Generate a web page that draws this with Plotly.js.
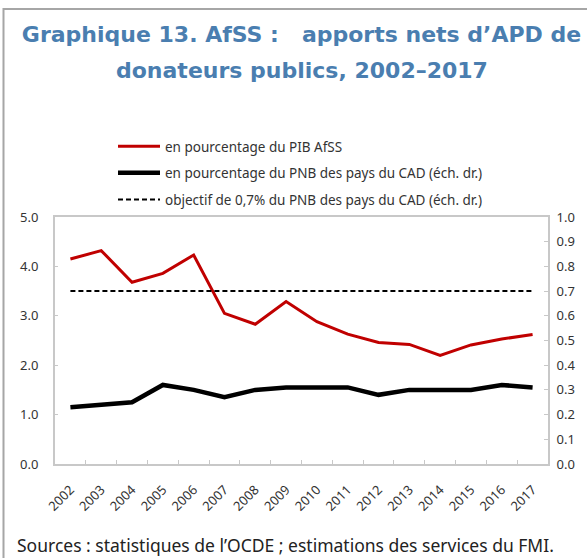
<!DOCTYPE html>
<html>
<head>
<meta charset="utf-8">
<script src="https://cdn.plot.ly/plotly-3.0.1.min.js"></script>
<style>html,body{margin:0;padding:0;background:#fff;}#chart{width:587px;height:558px;}</style>
</head>
<body>
<div id="chart"></div>
<script>
const years = ["2002","2003","2004","2005","2006","2007","2008","2009","2010","2011","2012","2013","2014","2015","2016","2017"];
const pibAfSS = [4.15,4.32,3.68,3.86,4.23,3.05,2.83,3.29,2.88,2.63,2.46,2.42,2.20,2.41,2.53,2.62];
const pnbCAD = [0.23,0.24,0.25,0.32,0.30,0.27,0.30,0.31,0.31,0.31,0.28,0.30,0.30,0.30,0.32,0.31];
const objectif = [0.7,0.7,0.7,0.7,0.7,0.7,0.7,0.7,0.7,0.7,0.7,0.7,0.7,0.7,0.7,0.7];
const names = ["en pourcentage du PIB AfSS","en pourcentage du PNB des pays du CAD (éch. dr.)","objectif de 0,7% du PNB des pays du CAD (éch. dr.)"];
const yTicks = [0,1,2,3,4,5];
const y2Ticks = [0,0.1,0.2,0.3,0.4,0.5,0.6,0.7,0.8,0.9,1.0];

const font = "'Noto Sans', 'Open Sans', sans-serif";
const titleFont = {family: "'DejaVu Sans', sans-serif", size: 22, color: "#4a7eb0", weight: 700};
const traces = [
  {x: years, y: pibAfSS, name: names[0], type: "scatter", mode: "lines", line: {color: "#c00000", width: 3}, legendgroup: "a", yaxis: "y"},
  {x: years, y: pnbCAD, name: names[1], type: "scatter", mode: "lines", line: {color: "#000000", width: 4.5}, legendgroup: "b", yaxis: "y2"},
  {x: years, y: objectif, name: names[2], type: "scatter", mode: "lines", line: {color: "#000000", width: 2, dash: "5px,3px"}, legendgroup: "c", yaxis: "y2"}
];
const axisColor = "#c8c8c8";
const layout = {
  width: 587, height: 558,
  margin: {l: 55, r: 39, t: 217, b: 94},
  paper_bgcolor: "#ffffff", plot_bgcolor: "#ffffff",
  font: {family: font, color: "#333333", size: 12},
  showlegend: true,
  title: {text: "Graphique 13. AfSS :\u00a0\u00a0\u00a0apports nets d’APD de", font: titleFont, x: 0.5, xref: "paper", xanchor: "center", y: 1 - 42/558, yref: "container", yanchor: "bottom"},
  annotations: [
    {text: "donateurs publics, 2002–2017", xref: "paper", yref: "paper", x: 0.5, y: (464-85)/247, xanchor: "center", yanchor: "bottom", showarrow: false, font: titleFont},
    {text: "Sources : statistiques de l’OCDE ; estimations des services du FMI.", xref: "paper", yref: "paper", x: (15-55)/493, y: (464-559)/247, xanchor: "left", yanchor: "bottom", showarrow: false, font: {family: font, size: 17.5, color: "#222222"}}
  ],
  legend: {x: (113-55)/493, y: (464-131)/247, xanchor: "left", yanchor: "top", bgcolor: "rgba(0,0,0,0)", font: {size: 13.5, color: "#333333"}, traceorder: "grouped", tracegroupgap: 6, itemwidth: 42},
  xaxis: {type: "category", range: [-0.5, 15.5], showline: true, linecolor: axisColor, linewidth: 2, mirror: true, ticks: "inside", tickson: "boundaries", ticklen: 4, tickcolor: axisColor, tickangle: -45, ticklabelstandoff: 11, showgrid: false, zeroline: false, tickfont: {size: 13, color: "#333333"}, fixedrange: true},
  yaxis: {range: [0, 5], tickvals: yTicks, tickformat: ".1f", showline: true, linecolor: axisColor, linewidth: 2, ticks: "inside", ticklen: 3, tickcolor: axisColor, showgrid: false, zeroline: false, ticklabelstandoff: 12, tickfont: {size: 13, color: "#333333"}},
  yaxis2: {range: [0, 1], tickvals: y2Ticks, tickformat: ".1f", overlaying: "y", side: "right", showline: true, linecolor: axisColor, linewidth: 2, ticks: "inside", ticklen: 4, tickcolor: axisColor, showgrid: false, zeroline: false, ticklabelstandoff: 4, tickfont: {size: 13, color: "#333333"}},
  shapes: [
    {type: "rect", xref: "paper", yref: "paper", x0: (3.5-55)/493, x1: 1.2, y0: -0.5, y1: (464-9)/247, line: {color: "#a6a6a6", width: 2}, layer: "below"}
  ]
};
Plotly.newPlot("chart", traces, layout, {displayModeBar: false, staticPlot: true});
</script>
</body>
</html>
